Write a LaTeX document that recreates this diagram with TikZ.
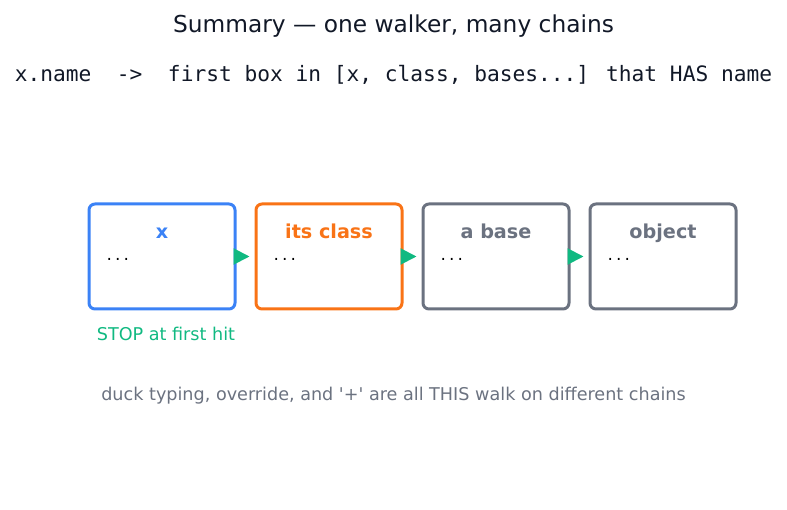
\documentclass[tikz,border=0pt]{standalone}
\usepackage{fontspec}
\defaultfontfeatures{}
\setmainfont{DejaVu Sans}[Ligatures=TeXOff]
\newfontfamily\monofont{DejaVu Sans Mono}[Ligatures=TeXOff]
\usetikzlibrary{arrows.meta}
\definecolor{cblue}{HTML}{3B82F6}
\definecolor{corange}{HTML}{F97316}
\definecolor{cgray}{HTML}{6B7280}
\definecolor{cgreen}{HTML}{10B981}
\definecolor{ctext}{HTML}{111827}
\begin{document}
\begin{tikzpicture}[x=1pt,y=-1pt,
  box/.style={draw, line width=3pt, rounded corners=6pt, minimum width=146pt, minimum height=105pt, inner sep=0pt, fill=white},
  lbl/.style={font=\fontsize{19.2}{22}\selectfont\bfseries, anchor=base, inner sep=0pt},
  dots/.style={font=\monofont\fontsize{14}{16}\selectfont, anchor=base west, text=black, inner sep=0pt},
  link/.style={cgreen, line width=2pt, -{Triangle[length=16pt,width=16pt]}, shorten >=5pt}
]
\useasboundingbox (0,0) rectangle (787,510);
\node[text=ctext, font=\fontsize{23.3}{26}\selectfont, anchor=base, inner sep=0pt] (title) at (393.5,33) {Summary — one walker, many chains};
\node[text=ctext, font=\monofont\fontsize{21.2}{24}\selectfont, anchor=base, inner sep=0pt] (rule) at (393.5,82) {x.name\ \ ->\ \ first box in [x, class, bases...] that HAS name};

\node[box, draw=cblue] (b1) at (162,256.5) {};
\node[box, draw=corange] (b2) at (329,256.5) {};
\node[box, draw=cgray] (b3) at (496,256.5) {};
\node[box, draw=cgray] (b4) at (663,256.5) {};

\node[lbl, text=cblue] (l1) at (162,239) {x};
\node[lbl, text=corange] (l2) at (329,239) {its class};
\node[lbl, text=cgray] (l3) at (496,239) {a base};
\node[lbl, text=cgray] (l4) at (663,239) {object};

\node[dots] (d1) at (105,261) {...};
\node[dots] (d2) at (272,261) {...};
\node[dots] (d3) at (439,261) {...};
\node[dots] (d4) at (606,261) {...};

\draw[link] (b1.east) -- (b2.west);
\draw[link] (b2.east) -- (b3.west);
\draw[link] (b3.east) -- (b4.west);

\node[text=cgreen, font=\fontsize{17.6}{20}\selectfont, anchor=base, inner sep=0pt] (stop) at (166,341) {STOP at first hit};
\node[text=cgray, font=\fontsize{17.6}{20}\selectfont, anchor=base, inner sep=0pt] (note) at (393.5,400) {duck typing, override, and '+' are all THIS walk on different chains};
\end{tikzpicture}
\end{document}
